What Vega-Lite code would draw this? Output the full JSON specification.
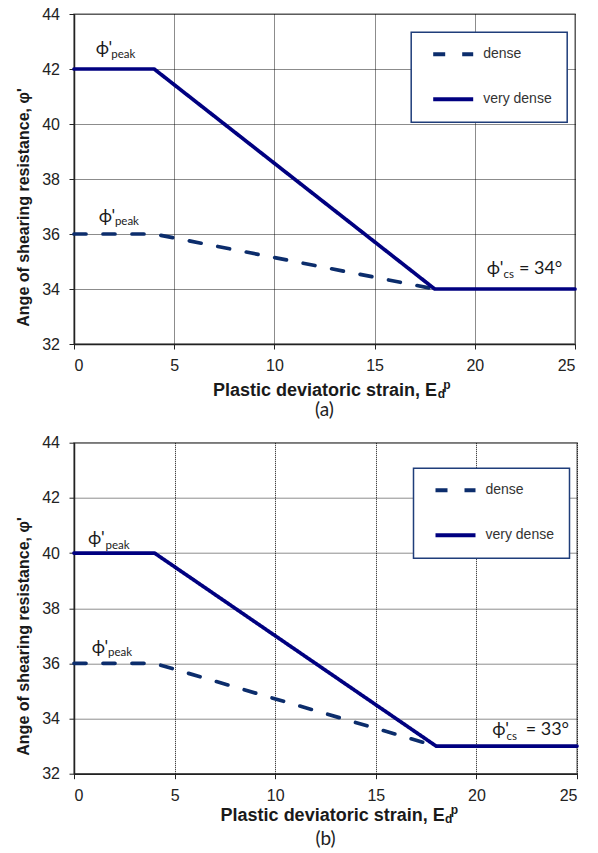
{
  "$schema": "https://vega.github.io/schema/vega-lite/v6.json",
  "background": "white",
  "padding": {"left": 14, "top": 5, "right": 5, "bottom": 0},
  "datasets": {
    "lines": [
      {"panel": "a", "series": "dense", "x": 0, "y": 36},
      {"panel": "a", "series": "dense", "x": 4, "y": 36},
      {"panel": "a", "series": "dense", "x": 18, "y": 34},
      {"panel": "a", "series": "very dense", "x": 0, "y": 42},
      {"panel": "a", "series": "very dense", "x": 4, "y": 42},
      {"panel": "a", "series": "very dense", "x": 18, "y": 34},
      {"panel": "a", "series": "very dense", "x": 25, "y": 34},
      {"panel": "b", "series": "dense", "x": 0, "y": 36},
      {"panel": "b", "series": "dense", "x": 4, "y": 36},
      {"panel": "b", "series": "dense", "x": 18, "y": 33},
      {"panel": "b", "series": "very dense", "x": 0, "y": 40},
      {"panel": "b", "series": "very dense", "x": 4, "y": 40},
      {"panel": "b", "series": "very dense", "x": 18, "y": 33},
      {"panel": "b", "series": "very dense", "x": 25, "y": 33}
    ],
    "notes": [
      {"panel": "a", "role": "main", "x": 1.08, "y": 42.56, "text": "ϕ'"},
      {"panel": "a", "role": "main", "x": 1.23, "y": 36.44, "text": "ϕ'"},
      {"panel": "a", "role": "main", "x": 20.6, "y": 34.56, "text": "ϕ'"},
      {"panel": "a", "role": "main", "x": 22.2, "y": 34.56, "text": "= 34°"},
      {"panel": "a", "role": "sub", "x": 1.86, "y": 42.41, "text": "peak"},
      {"panel": "a", "role": "sub", "x": 2.04, "y": 36.33, "text": "peak"},
      {"panel": "a", "role": "sub", "x": 21.43, "y": 34.4, "text": "cs"},
      {"panel": "b", "role": "main", "x": 0.7, "y": 40.31, "text": "ϕ'"},
      {"panel": "b", "role": "main", "x": 0.88, "y": 36.375, "text": "ϕ'"},
      {"panel": "b", "role": "main", "x": 20.79, "y": 33.42, "text": "ϕ'"},
      {"panel": "b", "role": "main", "x": 22.45, "y": 33.42, "text": "= 33°"},
      {"panel": "b", "role": "sub", "x": 1.57, "y": 40.16, "text": "peak"},
      {"panel": "b", "role": "sub", "x": 1.69, "y": 36.25, "text": "peak"},
      {"panel": "b", "role": "sub", "x": 21.5, "y": 33.22, "text": "cs"},
      {"panel": "a", "role": "axis", "x": 18.15, "y": 30.03, "text": "d"},
      {"panel": "a", "role": "axis", "x": 18.42, "y": 30.35, "text": "p"},
      {"panel": "b", "role": "axis", "x": 18.44, "y": 30.22, "text": "d"},
      {"panel": "b", "role": "axis", "x": 18.72, "y": 30.54, "text": "p"}
    ]
  },
  "concat": [
    {
      "width": 501,
      "height": 330,
      "title": {"text": "(a)", "orient": "bottom", "anchor": "middle", "font": "Lato", "fontSize": 19, "fontWeight": "normal", "color": "#222", "offset": 1},
      "encoding": {
        "x": {"field": "x", "type": "quantitative", "scale": {"domain": [0, 25], "nice": false, "zero": false},
          "axis": {"title": "Plastic deviatoric strain, E", "values": [0, 5, 10, 15, 20, 25], "titleAlign": "right", "titleX": 362.5, "titleY": 51.7, "titleBaseline": "alphabetic", "labelPadding": 8}},
        "y": {"field": "y", "type": "quantitative", "scale": {"domain": [32, 44], "nice": false, "zero": false},
          "axis": {"title": "Ange of shearing resistance, φ'", "values": [32, 34, 36, 38, 40, 42, 44], "titleAnchor": "middle", "titleAlign": "center", "titleY": 193, "titlePadding": 10, "labelPadding": 9.5}}
      },
      "layer": [
        {
          "data": {"name": "lines"},
          "transform": [{"filter": "datum.panel == 'a'"}],
          "mark": {"type": "line", "strokeWidth": 3.7, "strokeCap": "round", "strokeJoin": "round"},
          "encoding": {
            "color": {"field": "series", "type": "nominal", "scale": {"domain": ["dense", "very dense"], "range": ["#0c2d6c", "#000080"]},
              "legend": {"orient": "none", "legendX": 337.2, "legendY": 18.3, "labelExpr": "datum.label + '    '"}},
            "strokeDash": {"field": "series", "type": "nominal", "scale": {"domain": ["dense", "very dense"], "range": [[12, 17], [1, 0]]},
              "legend": {"orient": "none", "legendX": 337.2, "legendY": 18.3, "labelExpr": "datum.label + '    '"}}
          }
        },
        {
          "data": {"name": "notes"},
          "transform": [{"filter": "datum.panel == 'a' && datum.role == 'main'"}],
          "mark": {"type": "text", "align": "left", "baseline": "alphabetic", "font": "Lato", "fontSize": 18, "color": "#1a1a1a"},
          "encoding": {"text": {"field": "text"}}
        },
        {
          "data": {"name": "notes"},
          "transform": [{"filter": "datum.panel == 'a' && datum.role == 'sub'"}],
          "mark": {"type": "text", "align": "left", "baseline": "alphabetic", "font": "Lato", "fontSize": 11.5, "color": "#1a1a1a"},
          "encoding": {"text": {"field": "text"}}
        },
        {
          "data": {"name": "notes"},
          "transform": [{"filter": "datum.panel == 'a' && datum.role == 'axis'"}],
          "mark": {"type": "text", "align": "left", "baseline": "alphabetic", "font": "Liberation Sans", "fontSize": 12, "fontWeight": "bold", "color": "#1a1a1a"},
          "encoding": {"text": {"field": "text"}}
        }
      ]
    },
    {
      "width": 503,
      "height": 331,
      "title": {"text": "(b)", "orient": "bottom", "anchor": "middle", "font": "Lato", "fontSize": 19, "fontWeight": "normal", "color": "#222", "offset": 5},
      "encoding": {
        "x": {"field": "x", "type": "quantitative", "scale": {"domain": [0, 25], "nice": false, "zero": false},
          "axis": {"title": "Plastic deviatoric strain, E", "values": [0, 5, 10, 15, 20, 25], "titleAlign": "right", "titleX": 370.2, "titleY": 46.7, "titleBaseline": "alphabetic", "labelPadding": 8.5}},
        "y": {"field": "y", "type": "quantitative", "scale": {"domain": [32, 44], "nice": false, "zero": false},
          "axis": {"title": "Ange of shearing resistance, φ'", "values": [32, 34, 36, 38, 40, 42, 44], "titleAnchor": "middle", "titleAlign": "center", "titleY": 193.3, "titlePadding": 10, "labelPadding": 9.5}}
      },
      "layer": [
        {
          "data": {"name": "lines"},
          "transform": [{"filter": "datum.panel == 'b'"}],
          "mark": {"type": "line", "strokeWidth": 3.7, "strokeCap": "round", "strokeJoin": "round"},
          "encoding": {
            "color": {"field": "series", "type": "nominal", "scale": {"domain": ["dense", "very dense"], "range": ["#0c2d6c", "#000080"]},
              "legend": {"orient": "none", "legendX": 339.5, "legendY": 25.6, "labelExpr": "datum.label + '    '"}},
            "strokeDash": {"field": "series", "type": "nominal", "scale": {"domain": ["dense", "very dense"], "range": [[12, 17], [1, 0]]},
              "legend": {"orient": "none", "legendX": 339.5, "legendY": 25.6, "labelExpr": "datum.label + '    '"}}
          }
        },
        {
          "data": {"name": "notes"},
          "transform": [{"filter": "datum.panel == 'b' && datum.role == 'main'"}],
          "mark": {"type": "text", "align": "left", "baseline": "alphabetic", "font": "Lato", "fontSize": 18, "color": "#1a1a1a"},
          "encoding": {"text": {"field": "text"}}
        },
        {
          "data": {"name": "notes"},
          "transform": [{"filter": "datum.panel == 'b' && datum.role == 'sub'"}],
          "mark": {"type": "text", "align": "left", "baseline": "alphabetic", "font": "Lato", "fontSize": 11.5, "color": "#1a1a1a"},
          "encoding": {"text": {"field": "text"}}
        },
        {
          "data": {"name": "notes"},
          "transform": [{"filter": "datum.panel == 'b' && datum.role == 'axis'"}],
          "mark": {"type": "text", "align": "left", "baseline": "alphabetic", "font": "Liberation Sans", "fontSize": 12, "fontWeight": "bold", "color": "#1a1a1a"},
          "encoding": {"text": {"field": "text"}}
        }
      ]
    }
  ],
  "columns": 1,
  "align": "none",
  "spacing": 12.7,
  "resolve": {"scale": {"color": "independent", "strokeDash": "independent"}, "legend": {"color": "independent", "strokeDash": "independent"}},
  "config": {
    "view": {"stroke": "#8c8c8c", "strokeWidth": 1.5},
    "axis": {
      "labelFont": "Liberation Sans", "labelFontSize": 16, "labelColor": "#222",
      "titleFont": "Liberation Sans", "titleFontSize": 18, "titleFontWeight": "bold", "titleColor": "#1a1a1a",
      "domainColor": "#222", "domainWidth": 1.5,
      "tickColor": "#222", "tickSize": 5, "tickWidth": 1,
      "grid": true, "gridColor": "#000", "gridDash": [1, 1], "gridWidth": 1, "gridOpacity": 0.9
    },
    "axisY": {"titleFontSize": 16},
    "legend": {
      "title": null,
      "symbolType": "M-4,0H4",
      "symbolSize": 100,
      "symbolStrokeWidth": 4,
      "padding": 15,
      "rowPadding": 29,
      "symbolOffset": 20,
      "labelOffset": 23,
      "labelFont": "Liberation Sans",
      "labelFontSize": 14,
      "labelColor": "#333",
      "strokeColor": "#1f3d7a",
      "strokeWidth": 1.5,
      "fillColor": "white"
    }
  }
}
